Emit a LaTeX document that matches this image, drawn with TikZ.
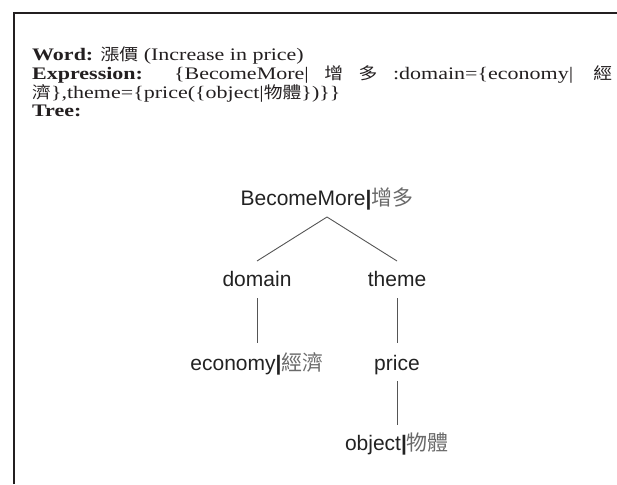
\documentclass[tikz,border=0pt]{standalone}
\usepackage{fontspec}
\setmainfont[FakeStretch=1.25]{Liberation Serif}
\newfontfamily\cjk[FakeStretch=1.15,Scale=0.93]{Noto Sans CJK TC}
\newfontfamily\cjktree{Noto Sans CJK TC}
\newfontfamily\arialf{Liberation Sans}
\definecolor{ink}{HTML}{231F20}
\definecolor{treeink}{HTML}{222222}
\definecolor{cjkgray}{HTML}{6A6A6A}
\definecolor{edgegray}{HTML}{555555}
\begin{document}
\begin{tikzpicture}[x=1pt,y=-1pt,
  hdr/.style={anchor=base west,inner sep=0pt,text=ink,font=\fontsize{17.6}{18}\selectfont},
  tn/.style={anchor=base,inner sep=0pt,text=treeink,font=\arialf\fontsize{21}{21}\selectfont},
  edge/.style={draw=edgegray,line width=0.9pt}]
\useasboundingbox (0,0) rectangle (617,484);
\draw[ink,line width=2pt] (14,484) -- (14,13) -- (620,13);
% header lines
\node[hdr] (l1) at (32,61) {\textbf{Word:} {\cjk 漲價} (Increase in price)};
\node[hdr] (l2) at (32,79.5) {\hbox to 580pt{\textbf{Expression:}\hskip 0pt plus 2fill\{BecomeMore|\hfill{\cjk 增}\hfill{\cjk 多}\hfill:domain=\{economy|\hskip 0pt plus 1.3fill{\cjk 經}}};
\node[hdr] (l3) at (32,98.5) {{\cjk 濟}\},theme=\{price(\{object|{\cjk 物體}\})\}\}};
\node[hdr] (l4) at (32,116.5) {\textbf{Tree:}};
% tree
\newcommand{\cj}[1]{{\cjktree\color{cjkgray}#1}}
\node[tn] (root) at (327,205) {BecomeMore\textbf{|}\cj{增多}};
\node[tn] (dom) at (257,286) {domain};
\node[tn] (thm) at (397,286) {theme};
\node[tn] (eco) at (257,370) {economy\textbf{|}\cj{經濟}};
\node[tn] (prc) at (397,370) {price};
\node[tn] (obj) at (397,450) {object\textbf{|}\cj{物體}};
\draw[edge] ([yshift=-12pt]root.base) -- ([yshift=25pt]dom.base);
\draw[edge] ([yshift=-12pt]root.base) -- ([yshift=25pt]thm.base);
\draw[edge] ([yshift=-12pt]dom.base) -- ([yshift=27pt]eco.base);
\draw[edge] ([yshift=-12pt]thm.base) -- ([yshift=27pt]prc.base);
\draw[edge] ([yshift=-11pt]prc.base) -- ([yshift=25pt]obj.base);
\end{tikzpicture}
\end{document}
